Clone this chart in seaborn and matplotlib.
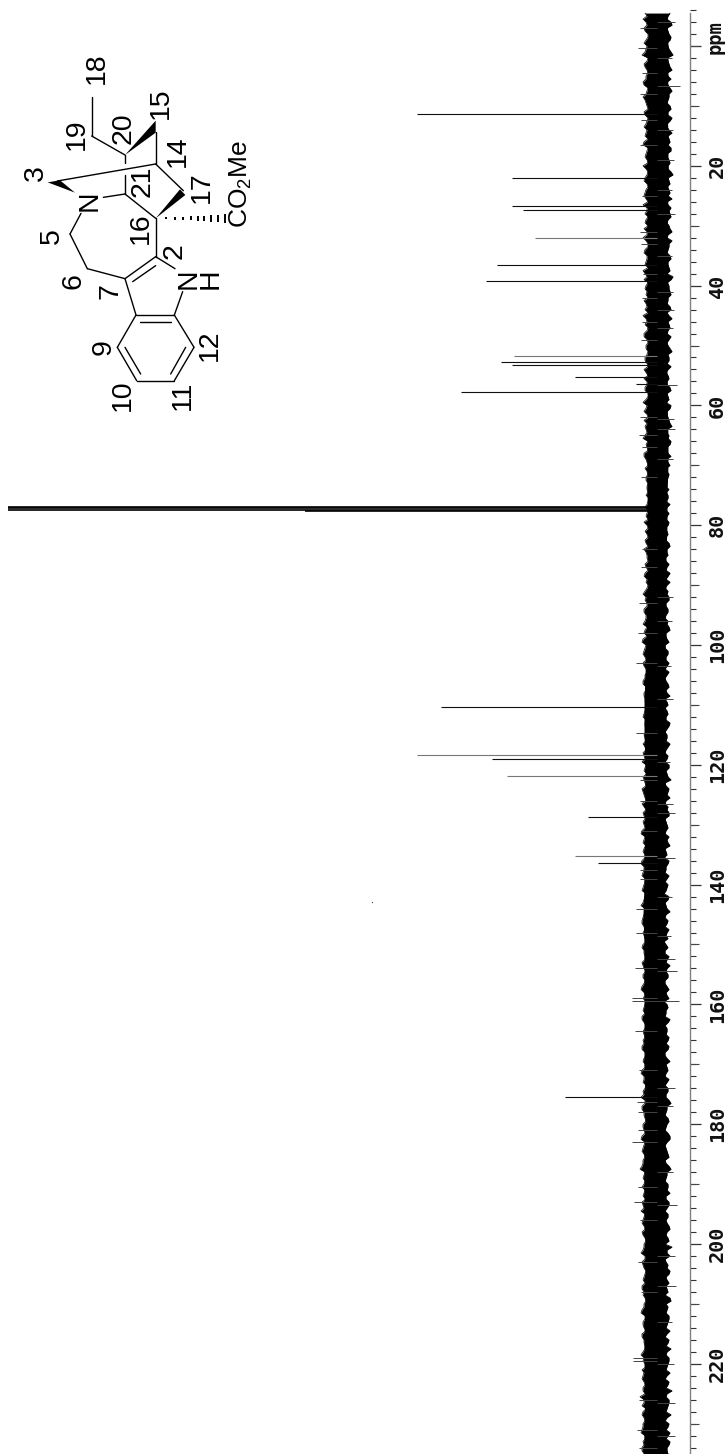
import matplotlib
matplotlib.use("Agg")
from matplotlib import pyplot as plt
from matplotlib.patches import Polygon
from matplotlib.ticker import MultipleLocator, FuncFormatter
import numpy as np
import pandas as pd
import seaborn as sns

# peak positions (ppm) and heights
peak_ppm = [11.4, 22.0, 26.7, 27.3, 36.5, 39.2, 52.8, 53.3, 55.3, 56.5, 57.7,
            110.3, 119.1, 128.7, 136.4, 175.5]
peak_height = [240, 145, 145, 134, 160, 171, 156, 145, 82, 21, 196,
               216, 165, 69, 59, 92]
# these come out paler in the scan
pale_ppm = [32.0, 51.7, 118.4, 121.9, 135.3]
pale_height = [122, 143, 240, 150, 82]
# CDCl3 triplet
solvent_ppm = [76.9, 77.15, 77.4, 77.65]
solvent_height = [649, 649, 649, 352]

# solid middle of the noise band, every 5 ppm from -5
core_high = [9, 9, 10, 9, 9, 10, 9, 10, 9, 10,
             9, 9, 10, 9, 10, 10, 10, 9, 9, 9,
             10, 11, 12, 13, 13, 12, 12, 12, 13, 13,
             14, 13, 13, 13, 13, 13, 12, 12, 13, 13,
             13, 12, 12, 12, 13, 13, 12, 13, 13]
core_low = [-10, -11, -11, -10, -11, -11, -11, -10, -10, -11,
            -10, -10, -10, -10, -11, -11, -10, -10, -9, -9,
            -8, -8, -8, -8, -8, -8, -8, -8, -8, -7,
            -7, -7, -7, -7, -7, -7, -8, -8, -8, -8,
            -8, -8, -8, -8, -8, -8, -8, -8, -8]

# fine noise, one value per ppm starting at -5.5
noise_high = [
    12, 14, 10, 12, 9, 13, 11, 15, 10, 12, 9, 11, 13, 10, 14, 11, 9, 12, 10, 13,
    11, 9, 14, 10, 12, 9, 11, 10, 13, 9, 12, 11, 14, 10, 9, 12, 13, 10, 11, 9,
    13, 10, 12, 14, 10, 9, 12, 11, 13, 10, 9, 11, 12, 10, 13, 9, 11, 10, 12, 9,
    11, 13, 10, 12, 9, 14, 11, 10, 13, 12, 10, 14, 11, 9, 13, 10, 12, 9, 11, 10,
    9, 8, 10, 9, 11, 13, 9, 10, 12, 9, 11, 10, 12, 9, 13, 11, 10, 14, 12, 10,
    13, 11, 14, 12, 10, 15, 12, 14, 11, 13, 10, 12, 14, 11, 13, 12, 10, 13, 11, 12,
    10, 12, 14, 11, 13, 15, 12, 10, 13, 11, 14, 12, 15, 11, 13, 14, 12, 16, 13, 11,
    14, 12, 16, 13, 15, 12, 14, 11, 13, 16, 12, 14, 15, 12, 13, 11, 15, 13, 12, 14,
    11, 14, 13, 16, 12, 11, 13, 12, 15, 11, 14, 12, 13, 15, 11, 14, 12, 16, 13, 11,
    14, 16, 12, 15, 13, 11, 14, 12, 16, 13, 15, 12, 14, 17, 13, 12, 15, 13, 11, 14,
    16, 13, 15, 12, 14, 11, 13, 16, 12, 14, 11, 13, 12, 15, 14, 11, 13, 16, 12, 14,
    11, 15, 13, 12, 16, 14, 11, 13, 15, 12, 14, 17, 13, 11, 15, 12, 14, 16, 12, 13,
    15]
noise_low = [
    -13, -10, -15, -11, -14, -10, -12, -16, -11, -13, -10, -14, -11, -15, -12, -10, -14, -11, -13, -10,
    -15, -12, -11, -14, -10, -13, -11, -16, -12, -10, -13, -15, -11, -12, -14, -10, -13, -11, -15, -12,
    -10, -14, -11, -13, -16, -10, -12, -14, -11, -13, -10, -15, -12, -11, -14, -10, -13, -11, -12, -14,
    -9, -12, -10, -14, -11, -9, -13, -10, -12, -15, -9, -11, -13, -10, -14, -11, -9, -12, -10, -8,
    -9, -11, -13, -9, -10, -12, -8, -11, -9, -13, -10, -8, -12, -9, -11, -13, -8, -10, -12, -9,
    -11, -8, -10, -13, -9, -12, -8, -11, -9, -10, -12, -8, -11, -9, -13, -10, -8, -11, -9, -12,
    -8, -10, -13, -9, -11, -8, -12, -10, -14, -9, -11, -13, -8, -10, -12, -9, -11, -8, -10, -13,
    -9, -7, -11, -9, -12, -8, -10, -7, -11, -9, -13, -8, -10, -12, -9, -7, -11, -8, -10, -13,
    -9, -11, -8, -12, -10, -7, -11, -9, -13, -8, -10, -12, -9, -11, -8, -13, -10, -9, -12, -8,
    -11, -9, -14, -10, -8, -12, -9, -11, -13, -8, -10, -12, -9, -14, -10, -8, -11, -13, -9, -12,
    -8, -11, -10, -13, -9, -12, -15, -10, -8, -11, -13, -9, -12, -10, -8, -14, -11, -9, -12, -10,
    -13, -8, -11, -14, -9, -12, -10, -13, -8, -11, -15, -9, -12, -10, -14, -8, -11, -13, -9, -12,
    -10]
# the same again on the whole ppm values, fills the gaps between the first set
noise_high2 = [
    10, 11, 13, 9, 11, 10, 12, 9, 13, 10, 11, 14, 9, 11, 12, 10, 13, 9, 11, 10,
    12, 13, 9, 11, 10, 14, 9, 12, 10, 11, 13, 9, 10, 12, 11, 9, 10, 14, 9, 12,
    10, 11, 9, 12, 13, 11, 10, 9, 11, 12, 14, 10, 9, 13, 10, 11, 9, 12, 10, 13,
    9, 10, 12, 9, 11, 10, 13, 9, 10, 11, 12, 9, 10, 13, 11, 9, 10, 11, 9, 10,
    11, 9, 12, 10, 9, 10, 12, 9, 11, 13, 10, 9, 11, 12, 10, 9, 12, 11, 10, 13,
    11, 12, 10, 13, 14, 11, 13, 12, 14, 11, 12, 14, 11, 13, 12, 10, 12, 14, 12, 11,
    13, 11, 12, 14, 12, 11, 13, 14, 12, 15, 13, 11, 13, 14, 12, 13, 15, 12, 14, 13,
    12, 15, 13, 14, 12, 13, 15, 12, 14, 12, 13, 15, 13, 14, 12, 14, 13, 12, 15, 13,
    14, 12, 15, 13, 14, 12, 14, 15, 13, 12, 13, 14, 15, 12, 13, 12, 15, 13, 14, 12,
    13, 12, 15, 13, 12, 14, 13, 15, 12, 14, 13, 14, 15, 12, 14, 13, 12, 14, 15, 13,
    12, 14, 13, 15, 12, 13, 14, 12, 15, 13, 12, 14, 15, 13, 12, 13, 15, 12, 14, 13,
    15, 13, 12, 14, 13, 12, 15, 14, 13, 14, 12, 13, 15, 14, 13, 14, 15, 12, 14, 15,
    13]
noise_low2 = [
    -11, -14, -10, -12, -13, -11, -14, -10, -12, -15, -11, -10, -13, -12, -11, -13, -11, -15, -10, -12,
    -11, -13, -14, -10, -12, -11, -14, -11, -13, -12, -11, -10, -14, -13, -11, -12, -15, -10, -12, -11,
    -13, -11, -12, -10, -14, -12, -13, -11, -10, -14, -12, -11, -13, -10, -12, -11, -15, -12, -10, -11,
    -11, -10, -13, -10, -12, -14, -10, -11, -13, -10, -12, -14, -10, -11, -9, -13, -10, -11, -9, -12,
    -11, -9, -10, -12, -9, -11, -10, -9, -12, -10, -11, -9, -10, -13, -9, -10, -11, -12, -9, -11,
    -9, -11, -12, -9, -10, -8, -11, -9, -12, -8, -10, -9, -12, -10, -8, -11, -10, -9, -13, -10,
    -10, -9, -11, -8, -10, -12, -9, -11, -8, -12, -10, -9, -11, -12, -8, -10, -9, -12, -11, -8,
    -10, -12, -9, -8, -10, -11, -9, -12, -8, -10, -9, -11, -8, -10, -11, -9, -8, -12, -9, -10,
    -11, -8, -10, -9, -12, -10, -9, -8, -11, -10, -9, -11, -12, -8, -10, -9, -11, -8, -10, -11,
    -9, -12, -10, -9, -11, -10, -8, -13, -10, -9, -11, -8, -12, -10, -9, -11, -10, -9, -12, -10,
    -11, -9, -12, -10, -11, -8, -10, -13, -9, -10, -12, -10, -9, -11, -13, -9, -10, -12, -11, -9,
    -10, -12, -9, -10, -12, -11, -9, -10, -12, -9, -10, -12, -11, -9, -10, -12, -9, -11, -13, -10,
    -11]

# single noise spikes sticking out of the band
spike_ppm = [-3, 0.3, 4.5, 8, 12.3, 16.5, 25, 31, 33, 38, 42, 46, 49, 62, 65, 67, 72, 84, 87, 93,
             98, 103, 114.7, 122.5, 126, 131, 137.5, 139, 144, 148, 154, 159.0, 159.4, 164.4,
             171, 176.3, 178, 181, 183, 190.5, 193, 196, 203, 208, 219, 219.5, 226, 231, 234,
             -4, 2, 6.7, 14, 19, 24, 28, 35, 41, 44, 47, 56.6, 62.2, 64, 69, 92, 96, 103.5, 109,
             119.5, 126.5, 128, 135.5, 142, 148.5, 152.5, 154.5, 159.5, 174, 177, 188, 193.5,
             202, 207, 213, 220, 226.5, 232]
spike_height = [17, 19, 15, 17, 16, 17, 15, 17, 16, 14, 15, 15, 16, 17, 18, 15, 16, 15, 16, 18,
                19, 21, 21, 17, 17, 16, 17, 17, 21, 21, 22, 25, 25, 22,
                18, 20, 19, 19, 25, 19, 23, 17, 19, 16, 24, 24, 18, 20, 18,
                -18, -15, -23, -16, -17, -15, -18, -15, -16, -17, -16, -20, -17, -18, -16, -16, -15, -14, -16,
                -13, -16, -18, -18, -15, -14, -18, -20, -22, -18, -16, -16, -20,
                -18, -19, -15, -17, -18, -18]

stray_ppm = [142.9]
stray_height = [285]

tick_major = 20
tick_medium = [0, 10, 30, 50, 70, 90, 110, 130, 150, 170, 190, 210, 230]
tick_minor = 2

sns.set_theme(style="white", rc={"font.family": ["Liberation Sans", "DejaVu Sans"],
                                 "mathtext.default": "regular"})

fig = plt.figure(figsize=(7.26, 14.54), dpi=100)
ax = fig.add_axes([0, 0, 690 / 726, 1])

core = pd.DataFrame({"ppm": np.arange(len(core_high)) * 5 - 5, "high": core_high, "low": core_low})
ax.fill_betweenx(core["ppm"], core["low"], core["high"], color="black", lw=0)

# both sets of noise woven together into one jagged outline
noise_ppm = np.arange(len(noise_high)) - 5.5
noise = pd.DataFrame({
    "ppm": np.column_stack([noise_ppm, noise_ppm + 0.5]).ravel(),
    "high": np.column_stack([noise_high, noise_high2]).ravel(),
    "low": np.column_stack([noise_low, noise_low2]).ravel(),
})
ax.fill_betweenx(noise["ppm"], noise["low"], noise["high"], color="black", lw=0)
sns.lineplot(data=noise, x="high", y="ppm", orient="y", estimator=None, sort=False,
             color="black", lw=0.5, ax=ax)
sns.lineplot(data=noise, x="low", y="ppm", orient="y", estimator=None, sort=False,
             color="black", lw=0.5, ax=ax)

ax.hlines(spike_ppm, 0, spike_height, color="#444444", lw=0.7)
ax.hlines(peak_ppm, 0, peak_height, color="#111111", lw=0.8)
ax.hlines(pale_ppm, 0, pale_height, color="#777777", lw=0.8)
ax.hlines(solvent_ppm, 0, solvent_height, color="black", lw=1.2)
ax.scatter(stray_height, stray_ppm, s=1, color="#555555", lw=0)

ax.set_xlim(657, -33)
ax.set_ylim(235.06, -7.68)
ax.set_xticks([])
ax.set_xlabel("")
ax.set_ylabel("")

# axis on the right hand side, labels read bottom to top
sns.despine(ax=ax, top=True, left=True, bottom=True, right=False)
ax.spines["right"].set_color("#808080")
ax.spines["right"].set_linewidth(1.0)
ax.spines["right"].set_bounds(-5.5, 235.06)
ax.yaxis.set_ticks_position("right")
ax.yaxis.set_major_locator(MultipleLocator(tick_major))
ax.yaxis.set_minor_locator(MultipleLocator(tick_minor))
ax.yaxis.set_major_formatter(FuncFormatter(lambda v, _: "" if v <= 0 else f"{v:.0f}"))
ax.tick_params(axis="y", which="major", length=8, width=0.9, color="#333333", pad=5,
               labelrotation=90, labelsize=14.5, labelcolor="#111111", right=True)
ax.tick_params(axis="y", which="minor", length=4.4, width=0.8, color="#333333", right=True)
for label in ax.get_yticklabels():
    label.set_family("DejaVu Sans Mono")
    label.set_fontweight("bold")
    label.set_va("center")
ax.hlines(tick_medium, 1, 1 + 8.5 / 690, transform=ax.get_yaxis_transform(),
          color="#444444", lw=0.8, clip_on=False)
ax.text(706 / 690, -1.5, "ppm", transform=ax.get_yaxis_transform(), rotation=90, ha="left",
        va="center", family="DejaVu Sans Mono", fontweight="bold", fontsize=13.5, color="#111111",
        clip_on=False)

# structure drawing, coordinates are 3x reference pixels
st = fig.add_axes([0, 0, 1, 1], zorder=5)
st.set_xlim(0, 2178)
st.set_ylim(4362, 0)
st.axis("off")
st.patch.set_alpha(0)

bonds = [
    (275, 292, 275, 408), (275, 408, 375, 465), (467, 395, 467, 492),
    (375, 465, 375, 490), (375, 525, 375, 582), (172, 543, 467, 492),
    (310, 592, 375, 582), (375, 582, 467, 655), (467, 492, 550, 572),
    (467, 655, 467, 770), (243, 640, 210, 702), (210, 702, 262, 806),
    (262, 806, 375, 836), (375, 836, 467, 770), (398, 845, 467, 797),
    (467, 770, 525, 806), (548, 875, 523, 945), (375, 836, 408, 945),
    (408, 945, 523, 945), (420, 967, 512, 967), (408, 945, 352, 1042),
    (352, 1042, 410, 1142), (375, 1042, 422, 1122), (410, 1142, 523, 1142),
    (523, 1142, 582, 1042), (512, 1122, 557, 1042), (582, 1042, 523, 945),
]
for x0, y0, x1, y1 in bonds:
    st.plot([x0, x1], [y0, y1], color="black", lw=1.0, solid_capstyle="round")

wedges = [
    [(375, 465), (467, 362), (467, 398)],
    [(225, 578), (143, 547), (180, 541)],
    [(467, 655), (540, 568), (556, 585)],
]
for pts in wedges:
    st.add_patch(Polygon(pts, closed=True, color="black", lw=0))

hash_x = [497, 525, 548, 572, 593, 612, 634, 655, 676]
hash_half = [3, 4, 5, 6, 7, 8, 10, 11, 13]
for hx, hh in zip(hash_x, hash_half):
    st.plot([hx, hx], [655 - hh, 655 + hh], color="black", lw=1.4, solid_capstyle="butt")

atom_labels = [
    ("18", 290, 205), ("19", 232, 403), ("20", 370, 385), ("15", 482, 310),
    ("14", 533, 455), ("3", 107, 520), ("21", 428, 545), ("17", 607, 562),
    ("16", 423, 685), ("5", 157, 708), ("N", 268, 602), ("2", 525, 752),
    ("N", 565, 836), ("H", 632, 836), ("6", 220, 842), ("7", 332, 872),
    ("9", 310, 1040), ("12", 630, 1035), ("10", 370, 1185), ("11", 550, 1185),
]
for text, lx, ly in atom_labels:
    st.text(lx, ly, text, rotation=90, ha="center", va="center", fontsize=20.5, color="black")
st.text(722, 552, "CO$_2$Me", rotation=90, ha="center", va="center", fontsize=19, color="black")

fig.savefig("out.png", dpi=100)
